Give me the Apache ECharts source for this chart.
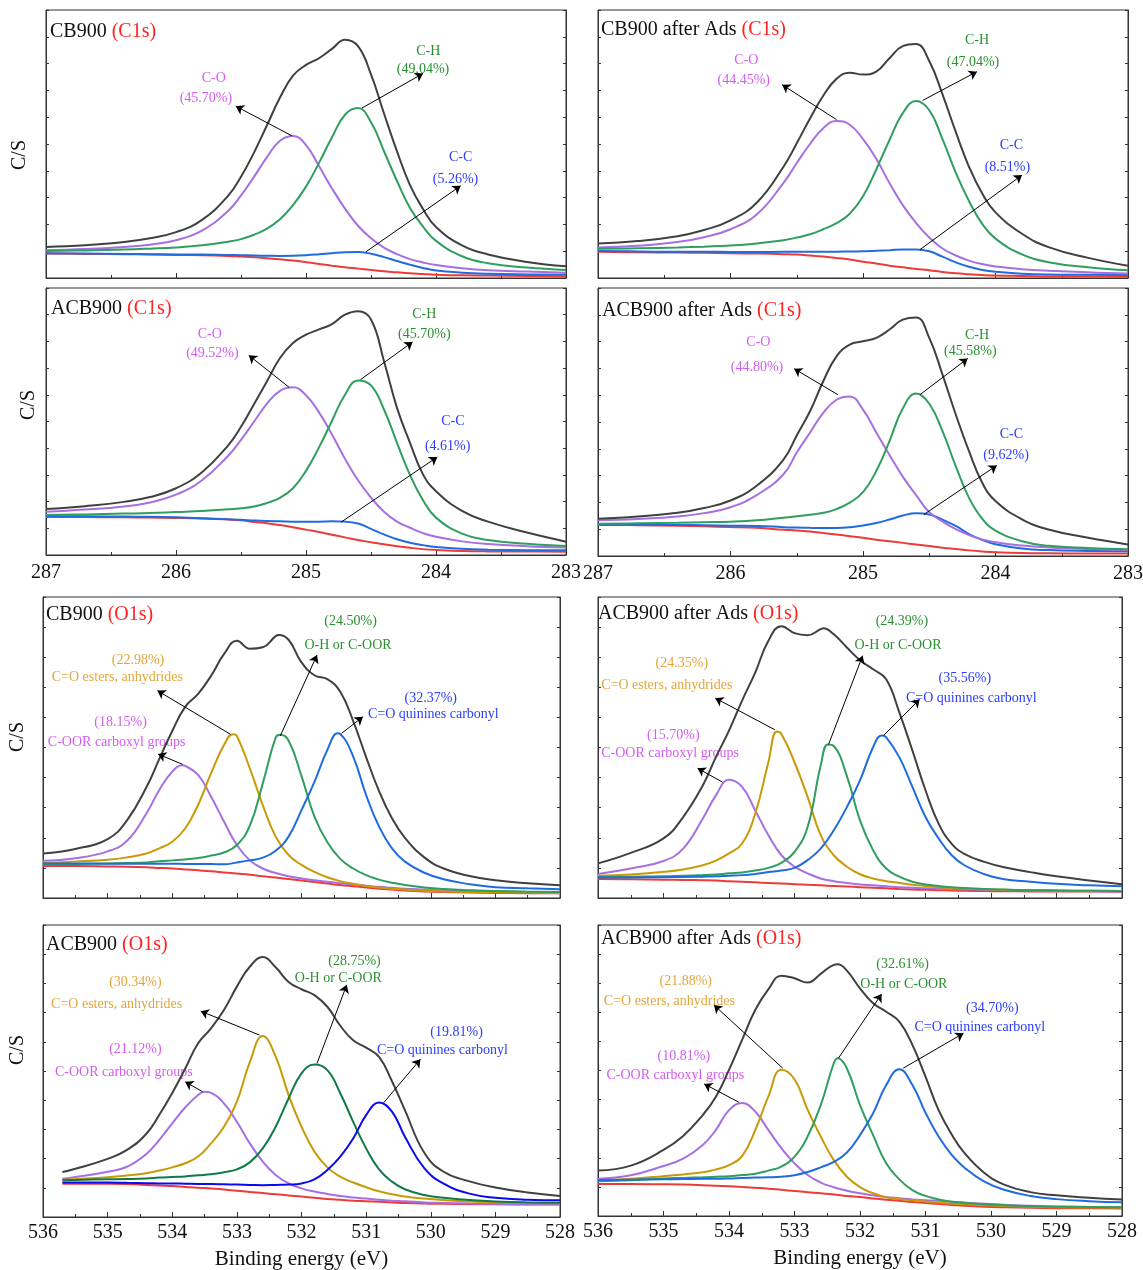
<!DOCTYPE html>
<html><head><meta charset="utf-8">
<script src="https://cdn.jsdelivr.net/npm/echarts@6/dist/echarts.min.js"></script>
<style>html,body{margin:0;padding:0;background:#fff;}#c{width:1143px;height:1270px;}</style>
</head><body><div id="c"></div>
<script>
// ---------------- DATA (intensities in arbitrary C/S units, 0-100 of panel height) ----------------
const xC1s = [287.0, 286.7, 286.4, 286.2, 286.0, 285.8, 285.6, 285.5, 285.4, 285.3, 285.2, 285.1, 285.0, 284.9, 284.8, 284.7, 284.6, 284.5, 284.4, 284.3, 284.2, 284.1, 284.0, 283.8, 283.6, 283.3, 283.0];
const xO1s = [536.0, 535.5, 535.0, 534.7, 534.4, 534.2, 534.0, 533.8, 533.6, 533.4, 533.2, 533.0, 532.8, 532.6, 532.4, 532.2, 532.0, 531.8, 531.6, 531.4, 531.2, 531.0, 530.8, 530.6, 530.4, 530.1, 529.8, 529.4, 529.0, 528.5, 528.0];
const xO1sACB = [535.7, 535.5, 535.0, 534.7, 534.4, 534.2, 534.0, 533.8, 533.6, 533.4, 533.2, 533.0, 532.8, 532.6, 532.4, 532.2, 532.0, 531.8, 531.6, 531.4, 531.2, 531.0, 530.8, 530.6, 530.4, 530.1, 529.8, 529.4, 529.0, 528.5, 528.0];
const xTicksC = [287, 286, 285, 284, 283];
const xTicksO = [536, 535, 534, 533, 532, 531, 530, 529, 528];

// CB900 C1s
const cb900C_bg  = [9.1, 9.0, 8.9, 8.75, 8.6, 8.5, 8.25, 8.0, 7.75, 7.4, 7.0, 6.5, 5.9, 5.25, 4.6, 4.0, 3.5, 3.0, 2.5, 2.1, 1.75, 1.5, 1.25, 1.0, 0.9, 0.75, 0.6];
const cb900C_CC  = [9.2, 9.1, 9.0, 8.9, 8.8, 8.8, 8.6, 8.5, 8.4, 8.3, 8.25, 8.3, 8.5, 8.85, 9.25, 9.6, 9.7, 9.05, 7.8, 6.35, 4.95, 3.75, 2.8, 2.0, 1.6, 1.35, 1.2];
const cb900C_CO  = [10.4, 10.8, 11.6, 12.45, 14.1, 17.7, 25.0, 30.8, 37.75, 45.1, 51.2, 53.0, 49.6, 41.75, 33.4, 25.9, 19.5, 14.8, 11.3, 8.9, 7.05, 5.8, 4.85, 3.65, 2.9, 2.4, 2.0];
const cb900C_CH  = [10.1, 10.3, 10.6, 10.95, 11.4, 12.2, 13.55, 14.5, 16.15, 18.4, 21.9, 27.2, 34.1, 42.95, 52.5, 60.9, 63.4, 58.1, 47.3, 36.2, 26.15, 19.2, 13.85, 8.1, 5.5, 3.9, 3.0];
const cb900C_env = [11.6, 12.2, 13.4, 14.8, 17.1, 21.7, 30.65, 37.8, 46.8, 57.0, 67.35, 75.5, 79.5, 82.0, 85.5, 88.9, 86.5, 75.95, 61.4, 47.25, 34.65, 25.75, 19.0, 12.2, 8.8, 6.0, 4.4];

// CB900 after Ads C1s
const cb900AdsC_bg  = [9.75, 9.6, 9.5, 9.4, 9.25, 9.1, 8.9, 8.75, 8.4, 8.0, 7.5, 6.9, 6.1, 5.4, 4.6, 4.0, 3.4, 2.9, 2.25, 1.75, 1.4, 1.1, 0.9, 0.75, 0.6, 0.55, 0.5];
const cb900AdsC_CC  = [10.1, 9.9, 9.8, 9.8, 9.7, 9.7, 9.75, 9.8, 9.8, 9.8, 9.8, 9.9, 9.95, 10.2, 10.4, 10.6, 10.6, 9.95, 7.95, 5.85, 4.2, 3.0, 2.3, 1.6, 1.3, 1.2, 1.15];
const cb900AdsC_CO  = [11.4, 12.0, 13.4, 15.2, 18.2, 23.8, 35.5, 42.9, 50.0, 55.9, 58.6, 57.2, 51.8, 44.5, 35.4, 27.2, 20.6, 15.1, 11.0, 8.4, 6.5, 5.2, 4.3, 3.3, 2.7, 2.1, 1.7];
const cb900AdsC_CH  = [10.9, 11.1, 11.4, 11.7, 12.1, 12.9, 14.1, 15.1, 16.3, 18.2, 20.5, 24.0, 30.5, 40.5, 51.5, 61.5, 66.0, 62.6, 51.8, 39.3, 28.7, 20.2, 14.7, 8.8, 5.9, 4.0, 2.85];
const cb900AdsC_env = [12.9, 13.8, 15.6, 17.9, 21.5, 28.2, 41.5, 50.3, 59.5, 68.0, 74.3, 76.6, 75.9, 77.0, 82.0, 86.5, 87.3, 81.0, 68.5, 54.5, 41.5, 31.5, 24.5, 16.5, 11.5, 7.5, 4.6];

// ACB900 C1s
const acb900C_bg  = [14.2, 14.2, 14.1, 14.0, 13.9, 13.7, 13.3, 13.0, 12.4, 11.9, 11.2, 10.4, 9.5, 8.6, 7.6, 6.6, 5.6, 4.8, 4.0, 3.3, 2.7, 2.2, 1.9, 1.5, 1.35, 1.3, 1.25];
const acb900C_CC  = [14.6, 14.5, 14.4, 14.3, 14.1, 13.8, 13.4, 13.2, 12.9, 12.7, 12.6, 12.5, 12.5, 12.5, 12.6, 12.5, 11.8, 9.8, 7.7, 5.9, 4.6, 3.7, 3.0, 2.3, 2.0, 1.8, 1.75];
const acb900C_CO  = [16.2, 17.0, 18.2, 19.7, 22.6, 28.0, 37.1, 43.1, 49.9, 56.7, 61.5, 62.8, 59.8, 53.4, 45.1, 36.0, 28.0, 21.5, 16.2, 12.5, 10.2, 8.2, 6.8, 5.1, 4.1, 3.3, 2.8];
const acb900C_CH  = [15.0, 15.2, 15.5, 15.7, 16.1, 16.5, 17.1, 17.5, 18.2, 19.5, 21.4, 25.0, 31.5, 40.3, 50.3, 60.0, 65.4, 63.5, 54.5, 42.0, 30.0, 20.5, 14.0, 8.0, 5.6, 4.2, 3.4];
const acb900C_env = [17.2, 18.3, 19.9, 21.7, 25.0, 31.0, 41.0, 48.0, 56.5, 65.1, 73.8, 79.4, 82.5, 84.5, 86.5, 90.0, 91.3, 88.2, 72.6, 55.1, 42.0, 30.2, 23.9, 16.5, 12.5, 8.4, 5.0];

// ACB900 after Ads C1s
const acb900AdsC_bg  = [11.6, 11.5, 11.3, 11.1, 10.8, 10.5, 9.8, 9.5, 9.1, 8.6, 8.0, 7.4, 6.8, 6.1, 5.5, 4.9, 4.3, 3.7, 3.1, 2.6, 2.1, 1.7, 1.4, 1.1, 1.0, 0.95, 0.9];
const acb900AdsC_CC  = [11.8, 11.7, 11.6, 11.5, 11.3, 11.2, 10.75, 10.6, 10.5, 10.45, 10.45, 10.7, 11.4, 12.3, 13.6, 15.1, 15.95, 15.5, 13.6, 11.2, 8.2, 6.0, 4.4, 2.8, 2.2, 1.9, 1.8];
const acb900AdsC_CO  = [13.3, 13.8, 14.7, 16.0, 18.2, 22.8, 30.5, 38.6, 46.0, 53.4, 58.3, 59.5, 54.6, 46.1, 37.7, 29.6, 22.8, 16.3, 12.9, 10.0, 7.8, 6.2, 5.1, 3.9, 3.2, 2.6, 2.2];
const acb900AdsC_CH  = [12.0, 12.2, 12.4, 12.6, 12.8, 13.3, 14.3, 14.8, 15.4, 16.1, 17.5, 19.9, 23.8, 31.7, 42.9, 55.0, 60.6, 56.8, 46.6, 33.5, 21.7, 13.9, 9.5, 5.5, 3.8, 3.0, 2.5];
const acb900AdsC_env = [13.9, 14.7, 16.1, 17.9, 20.7, 26.3, 36.0, 45.0, 54.0, 65.2, 74.5, 78.9, 80.1, 81.4, 84.5, 88.2, 89.0, 81.4, 67.7, 52.8, 39.1, 27.3, 20.5, 13.7, 9.9, 6.8, 4.3];

// CB900 O1s
const cb900O_bg     = [10.6, 10.6, 10.5, 10.4, 10.2, 10.0, 9.8, 9.5, 9.2, 8.9, 8.5, 8.1, 7.7, 7.2, 6.8, 6.3, 5.8, 5.3, 4.8, 4.3, 3.9, 3.5, 3.1, 2.8, 2.5, 2.2, 2.0, 1.8, 1.7, 1.6, 1.6];
const cb900O_COOR   = [12.4, 13.2, 15.5, 19.0, 28.1, 35.9, 42.0, 43.9, 40.9, 33.7, 25.4, 17.6, 12.5, 9.8, 8.3, 7.2, 6.5, 5.9, 5.4, 4.9, 4.5, 4.1, 3.7, 3.4, 3.1, 2.8, 2.5, 2.3, 2.1, 2.0, 1.9];
const cb900O_ester  = [11.6, 12.1, 12.7, 13.5, 14.8, 16.5, 18.7, 23.1, 30.9, 41.4, 50.8, 53.8, 43.1, 30.9, 20.4, 14.3, 11.0, 8.7, 6.9, 5.6, 4.7, 4.0, 3.5, 3.1, 2.8, 2.4, 2.2, 2.0, 1.9, 1.8, 1.7];
const cb900O_OH     = [11.2, 11.3, 11.5, 11.6, 11.8, 12.2, 12.5, 12.8, 13.3, 14.1, 15.1, 17.6, 24.0, 38.0, 53.3, 52.3, 40.5, 27.0, 18.5, 13.0, 9.8, 7.6, 6.1, 5.1, 4.3, 3.5, 3.0, 2.6, 2.3, 2.1, 2.0];
const cb900O_quin   = [11.5, 11.5, 11.4, 11.4, 11.4, 11.4, 11.4, 11.3, 11.3, 11.3, 11.2, 11.8, 12.5, 13.4, 15.7, 20.4, 29.2, 38.6, 49.2, 54.5, 47.0, 34.2, 23.7, 16.5, 12.1, 8.4, 6.2, 4.6, 3.6, 3.2, 2.9];
const cb900O_env    = [14.8, 16.3, 19.6, 25.8, 36.8, 46.2, 55.5, 63.5, 67.8, 73.8, 81.0, 85.5, 82.8, 83.3, 87.0, 85.8, 78.3, 74.0, 72.7, 68.5, 58.8, 46.8, 35.5, 26.5, 20.0, 13.5, 9.8, 7.3, 5.9, 4.9, 4.2];
// apex points [eV, value] read at each peak top
const cb900O_apex = {COOR:[533.84, 44.1], ester:[533.06, 54.4], OH:[532.33, 54.2], quin:[531.44, 54.7], env:[532.35, 87.4]};

// ACB900 after Ads O1s (upper right)
const acb900AdsO1_bg    = [6.3, 6.2, 6.1, 6.0, 5.9, 5.8, 5.6, 5.4, 5.2, 5.0, 4.8, 4.6, 4.4, 4.2, 4.0, 3.8, 3.6, 3.4, 3.2, 3.0, 2.85, 2.7, 2.6, 2.5, 2.4, 2.3, 2.25, 2.2, 2.2, 2.15, 2.1];
const acb900AdsO1_COOR  = [8.0, 9.8, 12.3, 16.4, 26.4, 34.1, 39.3, 36.9, 29.1, 20.9, 14.2, 10.4, 8.2, 6.5, 5.6, 5.0, 4.5, 4.2, 3.9, 3.6, 3.4, 3.2, 3.1, 3.0, 2.9, 2.7, 2.6, 2.5, 2.4, 2.3, 2.2];
const acb900AdsO1_ester = [7.4, 7.8, 8.7, 9.5, 10.9, 12.4, 14.8, 18.1, 28.0, 45.0, 54.5, 45.1, 33.6, 20.9, 14.2, 10.4, 7.9, 6.5, 5.6, 5.0, 4.4, 4.0, 3.6, 3.3, 3.1, 2.9, 2.7, 2.6, 2.5, 2.4, 2.3];
const acb900AdsO1_OH    = [7.0, 7.1, 7.2, 7.4, 7.6, 7.8, 8.2, 8.5, 9.1, 10.0, 11.7, 15.3, 23.6, 44.0, 50.5, 40.5, 25.8, 15.9, 9.8, 7.1, 5.4, 4.5, 4.0, 3.6, 3.3, 3.0, 2.8, 2.6, 2.5, 2.4, 2.3];
const acb900AdsO1_quin  = [6.8, 6.8, 6.9, 7.0, 7.1, 7.2, 7.4, 7.6, 8.0, 8.6, 9.1, 10.0, 12.6, 16.4, 22.5, 30.2, 39.1, 50.1, 53.4, 46.8, 36.9, 26.9, 19.8, 14.2, 10.8, 7.9, 6.2, 5.4, 4.7, 4.2, 3.9];
const acb900AdsO1_env   = [11.5, 15.0, 19.8, 26.9, 37.4, 46.8, 55.6, 65.6, 74.9, 85.4, 90.3, 88.0, 87.3, 89.3, 87.6, 83.2, 79.0, 76.0, 72.7, 61.7, 49.0, 35.8, 24.7, 18.0, 14.6, 12.0, 10.2, 8.6, 7.2, 5.8, 4.6];
const acb900AdsO1_apex = {ester:[533.27, 55.3], OH:[532.49, 51.0], quin:[531.67, 54.0], env:[532.56, 89.6]};

// ACB900 O1s
const acb900O_bg    = [11.4, 11.4, 11.4, 11.3, 11.0, 10.8, 10.6, 10.3, 10.0, 9.8, 9.4, 9.0, 8.6, 8.2, 7.8, 7.4, 7.0, 6.6, 6.2, 5.9, 5.6, 5.4, 5.2, 5.0, 4.8, 4.6, 4.5, 4.4, 4.35, 4.3, 4.3];
const acb900O_COOR  = [13.1, 13.7, 15.5, 17.2, 21.6, 26.4, 32.1, 37.5, 41.8, 42.5, 38.9, 32.6, 25.2, 19.0, 14.4, 11.5, 9.8, 8.7, 7.9, 7.2, 6.7, 6.3, 5.9, 5.6, 5.4, 5.0, 4.8, 4.6, 4.5, 4.4, 4.4];
const acb900O_ester = [12.8, 13.0, 13.6, 14.2, 15.0, 15.9, 17.0, 18.4, 20.7, 25.2, 30.9, 39.5, 53.0, 62.0, 54.9, 41.8, 30.9, 22.4, 17.0, 13.8, 11.8, 10.2, 8.8, 7.8, 7.0, 6.3, 5.8, 5.3, 5.0, 4.8, 4.7];
const acb900O_OH    = [12.6, 12.7, 12.9, 13.0, 13.2, 13.5, 13.7, 13.9, 14.3, 14.6, 15.3, 16.3, 18.7, 23.5, 30.9, 40.6, 49.2, 52.2, 50.3, 42.4, 32.6, 23.5, 16.3, 12.1, 9.5, 7.5, 6.6, 5.8, 5.3, 5.0, 4.9];
const acb900O_quin  = [11.8, 11.8, 11.8, 11.7, 11.6, 11.5, 11.5, 11.4, 11.3, 11.3, 11.2, 11.1, 11.0, 10.9, 11.0, 11.1, 11.5, 12.9, 16.1, 20.7, 26.9, 34.9, 39.2, 36.1, 27.5, 16.7, 11.4, 8.0, 6.6, 5.9, 5.7];
const acb900O_env   = [15.4, 16.5, 19.9, 23.0, 28.5, 35.0, 42.5, 50.8, 59.5, 64.6, 70.9, 78.9, 85.7, 89.0, 85.5, 80.5, 78.0, 76.0, 72.0, 65.5, 60.5, 58.0, 54.8, 46.5, 36.6, 22.0, 15.5, 12.2, 10.1, 8.4, 7.2];
const acb900O_apex = {COOR:[533.5, 42.9]};

// ACB900 after Ads O1s (lower right)
const acb900AdsO2_bg    = [11.0, 11.0, 10.9, 10.8, 10.6, 10.4, 10.2, 10.0, 9.7, 9.4, 9.0, 8.6, 8.2, 7.8, 7.4, 6.9, 6.5, 6.0, 5.6, 5.2, 4.8, 4.5, 4.1, 3.8, 3.5, 3.2, 3.0, 2.8, 2.7, 2.65, 2.6];
const acb900AdsO2_COOR  = [12.8, 14.0, 17.2, 19.7, 24.4, 29.6, 36.4, 38.8, 35.9, 29.6, 23.3, 18.1, 14.1, 11.5, 9.9, 8.7, 7.8, 7.1, 6.5, 6.1, 5.7, 5.4, 5.2, 4.9, 4.6, 4.2, 3.9, 3.5, 3.3, 3.1, 3.0];
const acb900AdsO2_ester = [12.2, 12.8, 13.7, 14.3, 15.0, 16.0, 17.5, 20.6, 29.5, 41.0, 50.3, 47.0, 36.5, 27.3, 19.2, 13.5, 9.9, 7.8, 6.4, 5.8, 5.4, 5.0, 4.6, 4.3, 4.0, 3.7, 3.4, 3.2, 3.0, 2.9, 2.85];
const acb900AdsO2_OH    = [11.9, 12.3, 12.9, 13.1, 13.3, 13.5, 13.7, 14.1, 14.5, 15.6, 17.0, 20.4, 27.3, 38.1, 52.5, 50.7, 38.1, 27.8, 18.1, 12.6, 8.9, 6.9, 5.7, 4.9, 4.5, 4.0, 3.7, 3.4, 3.2, 3.1, 3.0];
const acb900AdsO2_quin  = [12.4, 12.5, 12.6, 12.7, 12.8, 12.8, 12.9, 13.1, 13.2, 13.3, 13.5, 14.0, 15.1, 16.7, 18.6, 21.8, 27.8, 35.3, 45.0, 50.4, 45.0, 35.5, 27.3, 21.0, 16.5, 11.8, 9.0, 6.9, 5.8, 5.1, 4.7];
const acb900AdsO2_env   = [15.6, 17.3, 22.7, 27.5, 34.7, 41.0, 50.2, 60.5, 70.8, 77.9, 82.6, 81.7, 80.2, 83.2, 86.3, 84.3, 78.2, 73.1, 70.2, 66.8, 58.8, 47.9, 36.4, 28.0, 21.5, 14.8, 10.8, 8.2, 7.1, 6.3, 5.7];
const acb900AdsO2_apex = {OH:[532.34, 54.2], env:[532.34, 86.5]};

// ---------------- STYLE ----------------
const FONT = '"Liberation Serif","Times New Roman",serif';
const COL = {bg:'#ef3a3a', env:'#404040', purple:'#a66fe2', green:'#2f9e5e', blue:'#1f6be0', orange:'#c99a06', green2:'#0f7a48', blue2:'#0a0af0'};
const TC = {purple:'#d35cf0', green:'#2a9030', blue:'#2a3cff', orange:'#e3a63a'};

const panels = [
 {grid:[46,10,520,268], kind:'C', x:xC1s, labels:false, xname:false, title:['CB900 ','(C1s)'], tpos:[50,22], apex:{},
  curves:[[cb900C_bg,'bg'],[cb900C_CC,'blue'],[cb900C_CO,'purple'],[cb900C_CH,'green'],[cb900C_env,'env']],
  texts:[['C-O',285.71,74.4,TC.purple],['(45.70%)',285.77,66.9,TC.purple],['C-H',284.06,84.6,TC.green],['(49.04%)',284.1,77.9,TC.green],['C-C',283.81,45.0,TC.blue],['(5.26%)',283.85,36.9,TC.blue]],
  arrows:[[285.11,53.1,285.54,64.1],[284.57,63.4,284.1,76.3],[284.54,9.75,283.81,34.4]]},
 {grid:[598,10,530,268], kind:'C', x:xC1s, labels:false, xname:false, title:['CB900 after Ads ','(C1s)'], tpos:[601,20], apex:{},
  curves:[[cb900AdsC_bg,'bg'],[cb900AdsC_CC,'blue'],[cb900AdsC_CO,'purple'],[cb900AdsC_CH,'green'],[cb900AdsC_env,'env']],
  texts:[['C-O',285.88,81.25,TC.purple],['(44.45%)',285.9,73.75,TC.purple],['C-H',284.14,88.75,TC.green],['(47.04%)',284.17,80.6,TC.green],['C-C',283.88,49.4,TC.blue],['(8.51%)',283.91,41.25,TC.blue]],
  arrows:[[285.2,59.1,285.61,72.1],[284.55,66.25,284.14,77.0],[284.57,10.6,283.8,38.4]]},
 {grid:[46,288,520,267], kind:'C', x:xC1s, labels:true, xname:false, title:['ACB900 ','(C1s)'], tpos:[51,299], apex:{},
  curves:[[acb900C_bg,'bg'],[acb900C_CC,'blue'],[acb900C_CO,'purple'],[acb900C_CH,'green'],[acb900C_env,'env']],
  texts:[['C-O',285.74,82.8,TC.purple],['(49.52%)',285.72,75.7,TC.purple],['C-H',284.09,90.3,TC.green],['(45.70%)',284.09,82.8,TC.green],['C-C',283.87,50.1,TC.blue],['(4.61%)',283.91,40.8,TC.blue]],
  arrows:[[285.13,62.8,285.44,74.8],[284.58,65.7,284.18,79.8],[284.73,12.3,283.99,36.7]]},
 {grid:[598,288,530,268], kind:'C', x:xC1s, labels:true, xname:false, title:['ACB900 after Ads ','(C1s)'], tpos:[602,301], apex:{},
  curves:[[acb900AdsC_bg,'bg'],[acb900AdsC_CC,'blue'],[acb900AdsC_CO,'purple'],[acb900AdsC_CH,'green'],[acb900AdsC_env,'env']],
  texts:[['C-O',285.79,79.9,TC.purple],['(44.80%)',285.8,70.4,TC.purple],['C-H',284.14,82.4,TC.green],['(45.58%)',284.19,76.4,TC.green],['C-C',283.88,45.3,TC.blue],['(9.62%)',283.92,37.6,TC.blue]],
  arrows:[[285.19,60.2,285.52,69.9],[284.57,60.2,284.21,73.7],[284.54,15.5,283.99,33.8]]},
 {grid:[43,597,517,301], kind:'O', x:xO1s, labels:false, xname:false, title:['CB900 ','(O1s)'], tpos:[46,605], apex:cb900O_apex,
  curves:[[cb900O_bg,'bg'],[cb900O_COOR,'purple','COOR'],[cb900O_ester,'orange','ester'],[cb900O_OH,'green','OH'],[cb900O_quin,'blue','quin'],[cb900O_env,'env','env']],
  texts:[['(22.98%)',534.53,78.9,TC.orange],['C=O esters, anhydrides',534.85,73.2,TC.orange],['(24.50%)',531.24,91.9,TC.green],['O-H or C-OOR',531.28,83.8,TC.green],['(32.37%)',530.0,66.3,TC.blue],['C=O quinines carbonyl',529.96,61.0,TC.blue],['(18.15%)',534.8,58.2,TC.purple],['C-OOR carboxyl groups',534.86,51.6,TC.purple]],
  arrows:[[533.1,54.4,534.23,68.9],[532.33,53.8,531.76,80.7],[531.38,54.7,531.05,60.2],[533.84,44.4,534.22,47.8]]},
 {grid:[598,597,524,301], kind:'O', x:xO1s, labels:false, xname:false, title:['ACB900 after Ads ','(O1s)'], tpos:[598,604], apex:acb900AdsO1_apex,
  curves:[[acb900AdsO1_bg,'bg'],[acb900AdsO1_COOR,'purple','COOR'],[acb900AdsO1_ester,'orange','ester'],[acb900AdsO1_OH,'green','OH'],[acb900AdsO1_quin,'blue','quin'],[acb900AdsO1_env,'env','env']],
  texts:[['(24.39%)',531.36,91.8,TC.green],['O-H or C-OOR',531.42,83.8,TC.green],['(35.56%)',530.4,73.0,TC.blue],['C=O quinines carbonyl',530.3,66.4,TC.blue],['(24.35%)',534.72,77.9,TC.orange],['C=O esters, anhydrides',534.95,70.6,TC.orange],['(15.70%)',534.85,54.0,TC.purple],['C-OOR carboxyl groups',534.9,47.9,TC.purple]],
  arrows:[[532.48,51.0,531.96,80.5],[531.64,54.0,531.09,66.0],[533.3,55.9,534.21,66.4],[534.1,38.5,534.48,43.1]]},
 {grid:[43,925,517,292], kind:'O', x:xO1sACB, labels:true, xname:true, title:['ACB900 ','(O1s)'], tpos:[46,935], apex:acb900O_apex,
  curves:[[acb900O_bg,'bg'],[acb900O_COOR,'purple','COOR'],[acb900O_ester,'orange','ester'],[acb900O_OH,'green2','OH'],[acb900O_quin,'blue2','quin'],[acb900O_env,'env','env']],
  texts:[['(30.34%)',534.57,80.3,TC.orange],['C=O esters, anhydrides',534.86,72.9,TC.orange],['(28.75%)',531.18,87.7,TC.green],['O-H or C-OOR',531.43,81.8,TC.green],['(19.81%)',529.6,63.2,TC.blue],['C=O quinines carbonyl',529.82,57.2,TC.blue],['(21.12%)',534.57,57.5,TC.purple],['C-OOR carboxyl groups',534.75,49.5,TC.purple]],
  arrows:[[532.65,62.3,533.56,70.5],[531.76,52.6,531.3,79.5],[530.73,39.1,530.16,54.0],[533.53,42.9,533.8,46.3]]},
 {grid:[598,925,524,291], kind:'O', x:xO1s, labels:true, xname:true, title:['ACB900 after Ads ','(O1s)'], tpos:[601,929], apex:acb900AdsO2_apex,
  curves:[[acb900AdsO2_bg,'bg'],[acb900AdsO2_COOR,'purple','COOR'],[acb900AdsO2_ester,'orange','ester'],[acb900AdsO2_OH,'green','OH'],[acb900AdsO2_quin,'blue','quin'],[acb900AdsO2_env,'env','env']],
  texts:[['(32.61%)',531.35,86.5,TC.green],['O-H or C-OOR',531.33,79.7,TC.green],['(34.70%)',529.98,71.5,TC.blue],['C=O quinines carbonyl',530.17,64.9,TC.blue],['(21.88%)',534.66,80.6,TC.orange],['C=O esters, anhydrides',534.91,73.8,TC.orange],['(10.81%)',534.69,55.0,TC.purple],['C-OOR carboxyl groups',534.82,48.3,TC.purple]],
  arrows:[[532.33,54.2,531.67,76.3],[531.34,50.8,530.42,62.8],[533.18,50.8,534.23,72.5],[533.85,39.1,534.38,45.4]]}
];

function buildData(xs, ys, apex) {
  const pts = xs.map((x, i) => [x, ys[i]]);
  if (apex) pts.push([apex[0], apex[1]]);
  pts.sort((a, b) => b[0] - a[0]);
  return pts;
}

const grids = [], xAxes = [], yAxes = [], series = [], titles = [];
panels.forEach((p, i) => {
  grids.push({left:p.grid[0], top:p.grid[1], width:p.grid[2], height:p.grid[3], show:true, borderColor:'#333', borderWidth:1, backgroundColor:'transparent', containLabel:false, outerBoundsMode:'none'});
  const isC = p.kind === 'C';
  const ticks = isC ? xTicksC : xTicksO;
  xAxes.push({
    gridIndex:i, type:'value', inverse:true,
    min: ticks[ticks.length-1], max: ticks[0], interval:1,
    axisLine:{show:true, lineStyle:{color:'#333', width:1}},
    axisTick:{show:true, inside:true, length:5, lineStyle:{color:'#333'}},
    minorTick:{show:true, splitNumber:2, length:3, lineStyle:{color:'#333'}},
    splitLine:{show:false},
    axisLabel:{show:p.labels, fontFamily:FONT, fontSize:20, color:'#111', margin:isC ? 8 : 6},
    name: p.xname ? 'Binding energy (eV)' : '', nameLocation:'middle', nameGap:32,
    nameTextStyle:{fontFamily:FONT, fontSize:21, color:'#111'}
  });
  ['left','right'].forEach(pos => yAxes.push({
    gridIndex:i, type:'value', position:pos, min:0, max:100, interval:10,
    axisLine:{show:true, lineStyle:{color:'#333', width:1}},
    axisTick:{show:true, inside:true, length:3, lineStyle:{color:'#333'}},
    axisLabel:{show:false}, splitLine:{show:false}
  }));
  p.curves.forEach(([ys, key, apexKey], k) => {
    const s = {
      type:'line', xAxisIndex:i, yAxisIndex:2*i,
      data:buildData(p.x, ys, apexKey ? p.apex[apexKey] : null),
      smooth:0.45, symbol:'none', silent:true, z:2+k,
      lineStyle:{width:2, color:COL[key]}, itemStyle:{color:COL[key]}
    };
    if (key === 'env') {
      s.markLine = {
        silent:true, symbol:['none','arrow'], symbolSize:8, animation:false, z:20,
        lineStyle:{color:'#000', width:1, type:'solid'}, itemStyle:{color:'#000'}, label:{show:false},
        data: p.arrows.map(a => [{coord:[a[0], a[1]]}, {coord:[a[2], a[3]]}])
      };
      s.markPoint = {
        silent:true, symbol:'circle', symbolSize:1, animation:false,
        itemStyle:{color:'rgba(0,0,0,0)'},
        data: p.texts.map(t => ({coord:[t[1], t[2]], value:0,
          label:{show:true, position:'inside', formatter:t[0], color:t[3], fontFamily:FONT, fontSize:14, fontWeight:'normal'}}))
      };
    }
    series.push(s);
  });
  titles.push({
    text:'{a|' + p.title[0] + '}{b|' + p.title[1] + '}', left:p.tpos[0], top:p.tpos[1], padding:0,
    textStyle:{fontWeight:'normal', rich:{a:{fontFamily:FONT, fontSize:20, fontWeight:'normal', color:'#111'}, b:{fontFamily:FONT, fontSize:20, fontWeight:'normal', color:'#ff2424'}}}
  });
});

const yLabels = [[20,155],[29,405],[18,737],[18,1050]];
const graphic = yLabels.map(([x, y]) => ({
  type:'text', x:x, y:y, rotation:Math.PI/2, silent:true,
  style:{text:'C/S', font:'20px ' + FONT, fill:'#111', align:'center', verticalAlign:'middle', textAlign:'center', textVerticalAlign:'middle'}
}));

const chart = echarts.init(document.getElementById('c'), null, {renderer:'canvas'});
chart.setOption({
  animation:false, backgroundColor:'#fff',
  title:titles, grid:grids, xAxis:xAxes, yAxis:yAxes, series:series, graphic:graphic
});
</script>
</body></html>
